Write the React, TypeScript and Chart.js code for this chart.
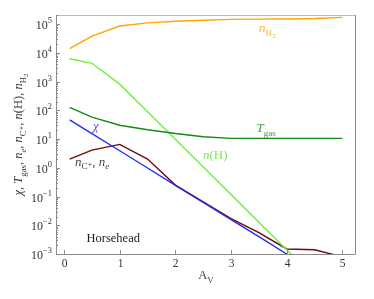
import { useEffect, useRef } from "react";
import { Chart, registerables } from "chart.js";
Chart.register(...registerables);

const av = [0.1, 0.5, 1, 1.5, 2, 2.5, 3, 3.5, 4, 4.5, 5];
const nH2 = [1.4e4, 3.8e4, 8.5e4, 1.1e5, 1.25e5, 1.35e5, 1.45e5, 1.48e5, 1.5e5, 1.55e5, 1.7e5];
const tGas = [126, 58, 30, 21, 15.5, 12, 10.5, 10.5, 10.5, 10.5, 10.5];
const nHI = [6.2e3, 4.3e3, 8.1e2, 89, 9.8, 1.07, 0.117, 0.0128, 0.0014, 1.5e-4, null];
const chi = [46, 15.5, 3.9, 0.98, 0.245, 0.062, 0.0157, 0.004, 0.001, null, null];
const nCp = [2, 4.1, 6.5, 2, 0.25, 0.065, 0.017, 0.0055, 0.0015, 0.0014, 0.0008];
const xTicks = [0, 1, 2, 3, 4, 5];
const yExps = [-3, -2, -1, 0, 1, 2, 3, 4, 5];

const FONT = "'Liberation Serif', 'DejaVu Serif', serif";

type Seg = { t: string; it?: boolean; sub?: boolean; sup?: boolean; ss?: boolean };

function segSize(s: Seg, size: number) {
  if (s.ss) return size * 0.55;
  return s.sub || s.sup ? size * 0.7 : size;
}

function setFont(ctx: CanvasRenderingContext2D, s: Seg, size: number) {
  ctx.font = `${s.it ? "italic " : ""}${segSize(s, size)}px ${FONT}`;
}

function drawRich(
  ctx: CanvasRenderingContext2D,
  segs: Seg[],
  x: number,
  y: number,
  size: number,
  color: string,
  align: "left" | "center" | "right"
) {
  ctx.save();
  ctx.textBaseline = "alphabetic";
  ctx.textAlign = "left";
  let w = 0;
  for (const s of segs) {
    setFont(ctx, s, size);
    w += ctx.measureText(s.t).width;
  }
  let cx = align === "left" ? x : align === "center" ? x - w / 2 : x - w;
  ctx.fillStyle = color;
  for (const s of segs) {
    setFont(ctx, s, size);
    const dy = s.ss ? size * 0.45 : s.sub ? size * 0.28 : s.sup ? -size * 0.42 : 0;
    ctx.fillText(s.t, cx, y + dy);
    cx += ctx.measureText(s.t).width;
  }
  ctx.restore();
}

const pts = (ys: (number | null)[]) => av.map((x, i) => ({ x, y: ys[i] }));

export default function App() {
  const ref = useRef<HTMLCanvasElement | null>(null);
  useEffect(() => {
    if (!ref.current) return;
    const deco = {
      id: "deco",
      afterDraw(chart: any) {
        const ctx: CanvasRenderingContext2D = chart.ctx;
        const { left, right, top, bottom } = chart.chartArea;
        const xs = chart.scales.x;
        const ys = chart.scales.y;
        ctx.save();
        ctx.lineWidth = 1;
        ctx.strokeStyle = "#bbbbbb";
        ctx.beginPath();
        ctx.moveTo(left, top + 0.5);
        ctx.lineTo(right, top + 0.5);
        ctx.stroke();
        ctx.strokeStyle = "#8a8a8a";
        ctx.beginPath();
        ctx.moveTo(left + 0.5, top);
        ctx.lineTo(left + 0.5, bottom + 0.5);
        ctx.lineTo(right - 0.5, bottom + 0.5);
        ctx.lineTo(right - 0.5, top);
        ctx.stroke();
        for (const v of xTicks) {
          const px = Math.round(xs.getPixelForValue(v)) + 0.5;
          ctx.beginPath();
          ctx.moveTo(px, bottom);
          ctx.lineTo(px, bottom - 4);
          ctx.stroke();
          drawRich(ctx, [{ t: String(v) }], px, bottom + 13, 11.5, "#333", "center");
        }
        for (const e of yExps) {
          const py = Math.round(ys.getPixelForValue(Math.pow(10, e))) + 0.5;
          ctx.beginPath();
          ctx.moveTo(left, py);
          ctx.lineTo(left + 4, py);
          ctx.stroke();
          for (let m = 2; m <= 9; m++) {
            const v = m * Math.pow(10, e);
            if (v > ys.max) continue;
            const pm = Math.round(ys.getPixelForValue(v)) + 0.5;
            ctx.beginPath();
            ctx.moveTo(left, pm);
            ctx.lineTo(left + 2, pm);
            ctx.stroke();
          }
          const expStr = e < 0 ? "\u2212" + Math.abs(e) : String(e);
          drawRich(ctx, [{ t: "10" }, { t: expStr, sup: true }], left - 4, py + 4, 12, "#333", "right");
        }
        drawRich(ctx, [{ t: "A" }, { t: "V", sub: true }], (left + right) / 2, bottom + 25, 12.5, "#444", "center");
        ctx.save();
        ctx.translate(22, (top + bottom) / 2);
        ctx.rotate(-Math.PI / 2);
        drawRich(
          ctx,
          [
            { t: "\u03c7", it: true }, { t: ", " },
            { t: "T", it: true }, { t: "gas", sub: true }, { t: ", " },
            { t: "n", it: true }, { t: "e", it: true, sub: true }, { t: ", " },
            { t: "n", it: true }, { t: "C\u207a", sub: true }, { t: ", " },
            { t: "n", it: true }, { t: "(H), " },
            { t: "n", it: true }, { t: "H", sub: true }, { t: "2", ss: true },
          ],
          0, 0, 12.5, "#333", "center"
        );
        ctx.restore();
        drawRich(ctx, [{ t: "n", it: true }, { t: "H", sub: true }, { t: "2", ss: true }], 259, 32, 13, "#f5b446", "left");
        drawRich(ctx, [{ t: "T", it: true }, { t: "gas", sub: true }], 256.5, 132, 13, "#3f9a3f", "left");
        drawRich(ctx, [{ t: "n", it: true }, { t: "(H)" }], 203, 159, 13, "#7ee85a", "left");
        drawRich(ctx, [{ t: "\u03c7", it: true }], 93, 130, 13, "#5555e6", "left");
        drawRich(
          ctx,
          [{ t: "n", it: true }, { t: "C\u207a", sub: true }, { t: ", " }, { t: "n", it: true }, { t: "e", it: true, sub: true }],
          75, 165.5, 13, "#4a3c3c", "left"
        );
        drawRich(ctx, [{ t: "Horsehead" }], 86.5, 241.5, 12.5, "#222", "left");
        ctx.restore();
      },
    };
    const ds = (label: string, data: (number | null)[], color: string) => ({
      label,
      data: pts(data),
      borderColor: color,
      backgroundColor: color,
      borderWidth: 1.4,
      pointRadius: 0,
      tension: 0,
      fill: false,
      spanGaps: false,
    });
    const chart = new Chart(ref.current, {
      type: "line",
      data: {
        datasets: [
          ds("nH2", nH2, "#ffa500"),
          ds("Tgas", tGas, "#138a13"),
          ds("nH", nHI, "#6ef03c"),
          ds("chi", chi, "#1f2ff0"),
          ds("nC+", nCp, "#6e0a0a"),
        ],
      },
      options: {
        animation: false,
        responsive: false,
        maintainAspectRatio: false,
        layout: { padding: { left: 56, top: 15, right: 18, bottom: 45 } },
        plugins: { legend: { display: false }, tooltip: { enabled: false } },
        scales: {
          x: { type: "linear", min: -0.145, max: 5.245, display: false },
          y: { type: "logarithmic", min: 1e-3, max: 2.06e5, display: false },
        },
      },
      plugins: [deco],
    });
    return () => chart.destroy();
  }, []);
  return (
    <div style={{ position: "fixed", left: 0, top: 0, width: 374, height: 299, background: "#fff" }}>
      <canvas ref={ref} width={374} height={299} style={{ width: 374, height: 299 }} />
    </div>
  );
}
